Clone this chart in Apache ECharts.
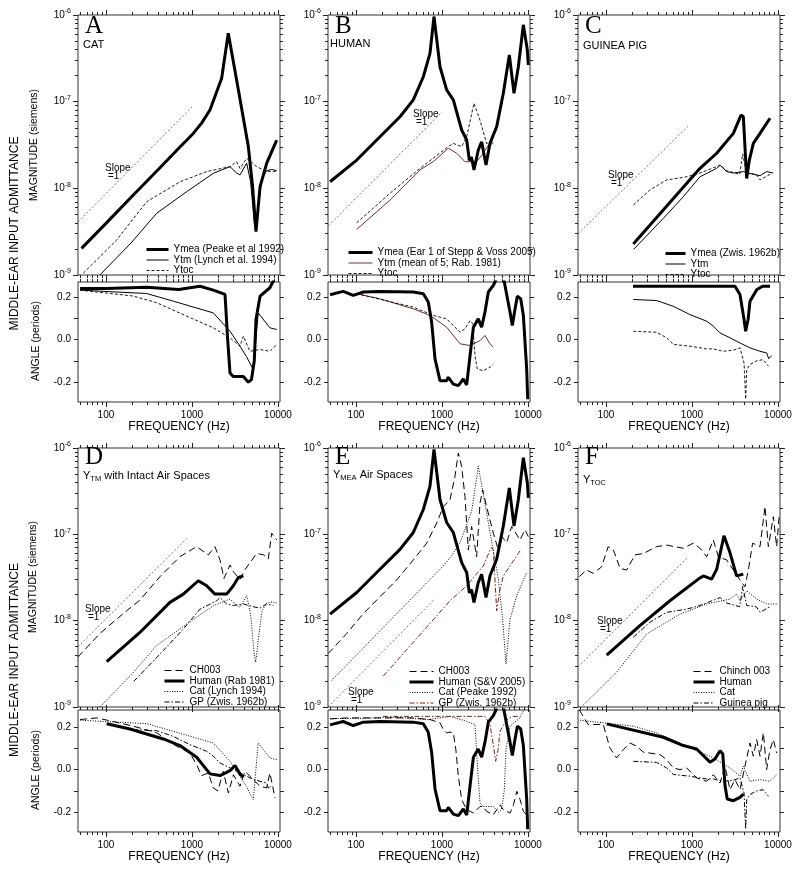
<!DOCTYPE html>
<html>
<head>
<meta charset="utf-8">
<script src="https://cdn.jsdelivr.net/npm/echarts@6/dist/echarts.min.js"></script>
<style>
html,body{margin:0;padding:0;background:#fff}
#chart{width:800px;height:874px}
</style>
</head>
<body>
<div id="chart"></div>
<script>
// ---- axis ticks ----
var X_MIN=47.3, X_MAX=10550;
var X_MAJOR=[100,1000,10000];
var X_MINOR=[50,60,70,80,90,200,300,400,500,600,700,800,900,2000,3000,4000,5000,6000,7000,8000,9000];
var Y_MAJOR=[1e-9,1e-8,1e-7,1e-6];
var Y_MINOR=[2e-9,3e-9,4e-9,5e-9,6e-9,7e-9,8e-9,9e-9,2e-8,3e-8,4e-8,5e-8,6e-8,7e-8,8e-8,9e-8,2e-7,3e-7,4e-7,5e-7,6e-7,7e-7,8e-7,9e-7];
var ANG_TICKS=[-0.2,-0.1,0,0.1,0.2];
var ANG_LABELS=[-0.2,0,0.2];

// ---- cat (A) : [Hz, siemens] / [Hz, periods] ----
var catYmeaMag=[[52,2.03e-9],[100,3.94e-9],[200,8.05e-9],[400,1.63e-8],[725,3.0e-8],[1035,4.3e-8],[1300,5.7e-8],[1618,8.0e-8],[2213,1.86e-7],[2642,6.15e-7],[3460,1.37e-7],[4520,3.03e-8],[5070,1.04e-8],[5548,3.16e-9],[6180,1.04e-8],[7396,1.95e-8],[9660,3.6e-8]];
var catYmeaAng=[[50,0.24],[100,0.24],[300,0.245],[700,0.235],[1239,0.25],[1770,0.232],[2421,0.212],[2600,0.0],[2767,-0.157],[3014,-0.173],[3954,-0.173],[4522,-0.2],[4914,-0.188],[5300,-0.1],[5546,0.094],[6190,0.204],[8050,0.243],[9200,0.29]];
var catYtmMag=[[85,1.0e-9],[200,2.4e-9],[388,5.15e-9],[867,9.14e-9],[1770,1.49e-8],[2767,1.78e-8],[3300,1.5e-8],[3614,1.43e-8],[4325,1.95e-8],[4800,1.2e-8],[5300,4.0e-9],[5500,3.3e-9],[5900,6.0e-9],[6500,1.3e-8],[7400,1.6e-8],[8500,1.65e-8],[9660,1.6e-8]];
var catYtmAng=[[50,0.232],[85,0.227],[297,0.216],[607,0.18],[1770,0.125],[2767,0.039],[3614,-0.031],[4300,-0.08],[5160,-0.141],[5890,0.125],[8050,0.055],[9650,0.047]];
var catYtocMag=[[54.5,1.05e-9],[133,2.53e-9],[297,7.0e-9],[725,1.19e-8],[1483,1.56e-8],[2767,1.78e-8],[3300,2.03e-8],[3614,1.7e-8],[4325,2.22e-8],[5650,1.78e-8],[7396,1.56e-8],[9660,1.56e-8]];
var catYtocAng=[[50,0.232],[208,0.204],[388,0.173],[867,0.11],[1770,0.055],[2767,0.008],[3614,-0.031],[3954,0.016],[4710,-0.055],[6190,-0.047],[8050,-0.055],[9650,-0.024]];

// ---- human (B) ----
var humYmeaMag=[[50,1.19e-8],[102,2.12e-8],[190,3.94e-8],[325,6.7e-8],[464,1.05e-7],[607,1.94e-7],[725,3.6e-7],[807,9.6e-7],[948,2.53e-7],[1133,1.37e-7],[1354,1.05e-7],[1694,4.71e-8],[1937,3.61e-8],[2080,2.1e-8],[2200,2.3e-8],[2355,1.63e-8],[2642,2.77e-8],[2890,3.45e-8],[3250,1.86e-8],[3614,3.31e-8],[4325,5.15e-8],[5165,1.25e-7],[6067,3.45e-7],[6875,1.25e-7],[7723,2.53e-7],[8830,7.7e-7],[9820,3.95e-7],[10090,2.65e-7]];
var humYmeaAng=[[50,0.21],[71,0.226],[93,0.207],[122,0.223],[190,0.226],[464,0.223],[607,0.215],[693,0.176],[758,0.082],[830,-0.091],[948,-0.193],[1133,-0.193],[1185,-0.177],[1354,-0.209],[1550,-0.216],[1770,-0.185],[1937,-0.213],[2120,-0.075],[2320,0.058],[2640,0.097],[2890,0.058],[3160,0.129],[3460,0.223],[3954,0.254],[4240,0.28],[4800,0.4],[5250,0.28],[6180,0.129],[6575,0.066],[7070,0.144],[7530,0.204],[8230,0.191],[8830,0.113],[9650,-0.138],[9920,-0.28]];
var humYtmMag=[[102,3.36e-9],[248,7.3e-9],[554,1.63e-8],[793,2.03e-8],[1185,2.9e-8],[1483,2.54e-8],[1850,2.03e-8],[2530,2.03e-8],[3026,2.54e-8],[3460,3.16e-8],[3954,3.3e-8]];
var humYtmAng=[[102,0.215],[190,0.191],[464,0.144],[725,0.113],[1133,0.058],[1620,-0.02],[2120,-0.028],[2767,-0.005],[3160,0.019],[3614,-0.02],[3954,-0.036]];
var humYtocMag=[[102,4.0e-9],[248,8.75e-9],[554,1.7e-8],[1185,3.03e-8],[1354,3.3e-8],[1694,3.03e-8],[1937,3.94e-8],[2355,9.6e-8],[2767,6.1e-8],[3300,3.3e-8],[3954,3.46e-8]];
var humYtocAng=[[102,0.215],[464,0.152],[793,0.113],[1133,0.097],[1620,0.035],[1850,0.05],[2120,0.089],[2280,0.074],[2420,-0.075],[2570,-0.138],[3030,-0.146],[3614,-0.13],[3954,-0.115]];

// ---- guinea pig (C) ----
var gpYmeaMag=[[208,2.28e-9],[1239,1.7e-8],[1937,2.54e-8],[3026,4.31e-8],[3715,7.0e-8],[3954,6.7e-8],[4325,1.3e-8],[4645,2.12e-8],[5165,3.3e-8],[6180,4.3e-8],[8075,6.43e-8]];
var gpYmeaAng=[[206,0.25],[3162,0.25],[3614,0.211],[4030,0.094],[4207,0.039],[4490,0.094],[4725,0.18],[5650,0.234],[6600,0.25],[8070,0.25]];
var gpYtmMag=[[210,1.98e-9],[464,4.5e-9],[793,8.0e-9],[1239,1.36e-8],[1937,1.7e-8],[2120,1.85e-8],[2530,1.56e-8],[3026,1.5e-8],[3954,1.56e-8],[5165,1.45e-8],[6180,1.4e-8],[7380,1.56e-8],[8800,1.5e-8]];
var gpYtmAng=[[208,0.188],[388,0.183],[607,0.156],[948,0.117],[1483,0.086],[1770,0.063],[2120,0.031],[2767,0.008],[3614,-0.016],[4725,-0.039],[6180,-0.055],[7380,-0.063],[7800,-0.09],[8450,-0.075]];
var gpYtocMag=[[208,6.43e-9],[325,9.6e-9],[507,1.25e-8],[867,1.36e-8],[1239,1.5e-8],[2120,1.85e-8],[2530,1.6e-8],[3590,1.45e-8],[3880,2.5e-8],[4325,1.5e-8],[5600,1.45e-8],[6180,1.25e-8],[8075,1.45e-8]];
var gpYtocAng=[[208,0.039],[388,0.034],[507,0.008],[607,-0.023],[948,-0.031],[1483,-0.044],[1770,-0.044],[2315,-0.055],[3030,-0.05],[3614,-0.039],[4030,-0.11],[4207,-0.28],[4330,-0.14],[4725,-0.117],[5650,-0.1],[6700,-0.094],[7750,-0.125]];

// ---- chinchilla 003 (D,E,F) ----
var chYtmMag=[[47.3,3.8e-9],[85,7.1e-9],[159,1.21e-8],[248,1.73e-8],[424,3.23e-8],[725,5.52e-8],[1133,7.2e-8],[1549,5.77e-8],[1850,7.2e-8],[2117,5.05e-8],[2356,3.09e-8],[2767,4.41e-8],[3020,3.7e-8],[3614,3.0e-8],[4130,3.9e-8],[5650,6.0e-8],[6750,5.8e-8],[7720,5.2e-8],[8440,1.03e-7],[9700,8.6e-8]];
var chYtmAng=[[50,0.235],[78,0.243],[118,0.227],[208,0.204],[388,0.173],[660,0.11],[948,0.078],[1130,0.024],[1290,-0.028],[1550,-0.016],[1770,-0.086],[2000,-0.1],[2310,-0.008],[2650,-0.11],[3030,-0.024],[3614,-0.078],[4130,-0.008],[5165,-0.047],[6180,-0.078],[7380,-0.086],[8050,-0.016],[9240,-0.133]];
var chYmeaMag=[[47.6,4.16e-9],[78,7.1e-9],[122,1.21e-8],[190,1.89e-8],[297,2.96e-8],[464,5.05e-8],[664,7.9e-8],[867,1.35e-7],[1037,2.1e-7],[1239,2.51e-7],[1415,4.69e-7],[1549,8.75e-7],[1694,6.1e-7],[1850,2.75e-7],[2025,6.6e-8],[2213,1.23e-7],[2530,5.5e-8],[2767,2.3e-7],[2970,3.28e-7],[3300,2.1e-7],[3954,1.03e-7],[4520,6.6e-8],[4940,9.5e-8],[5650,8.0e-8],[6450,1.23e-7],[7060,1.07e-7],[8075,8.6e-8],[9220,1.13e-7],[10090,9.4e-8]];
var chYmeaAng=[[50,0.238],[78,0.243],[190,0.243],[464,0.243],[725,0.235],[948,0.22],[1037,0.188],[1133,0.173],[1240,0.176],[1354,0.173],[1450,0.094],[1549,-0.031],[1694,-0.141],[1937,-0.188],[2320,-0.204],[2767,-0.173],[3030,-0.173],[3300,-0.196],[3954,-0.212],[4330,-0.188],[4725,-0.165],[5165,-0.188],[6180,-0.204],[6780,-0.165],[7420,-0.102],[8100,-0.141],[8830,-0.196],[10090,-0.22]];
var chYtocMag=[[49,3.24e-8],[59.5,3.86e-8],[71,3.53e-8],[89,4.2e-8],[106,7.2e-8],[122,6.6e-8],[146,4.03e-8],[174,3.86e-8],[217,5.77e-8],[272,6.0e-8],[388,7.2e-8],[507,7.5e-8],[793,6.9e-8],[1037,7.9e-8],[1239,6.9e-8],[1483,5.5e-8],[1770,8.6e-8],[2025,5.5e-8],[2530,5.05e-8],[3026,3.86e-8],[3614,2.96e-8],[4130,2.47e-8],[4520,3.86e-8],[5070,7.9e-8],[6180,7.2e-8],[7060,2.1e-7],[7720,7.2e-8],[8830,1.6e-7],[9650,7.2e-8],[10300,1.6e-7]];
var chYtocAng=[[49,0.28],[54.6,0.25],[62,0.212],[93,0.212],[111,0.102],[133,0.055],[159,0.094],[190,0.125],[228,0.11],[272,0.082],[424,0.071],[507,0.047],[607,0.008],[725,0.0],[867,0.008],[1133,-0.039],[1483,-0.055],[1770,-0.024],[2120,-0.063],[2420,0.016],[2767,-0.094],[3160,-0.047],[3614,-0.094],[4130,0.016],[4725,0.125],[5165,0.063],[5650,0.141],[6180,0.063],[6760,0.173],[7380,0.0],[8075,0.094],[8830,0.141],[9650,0.078]];

// ---- slope = 1 guide lines ----
var slopeA=[[47.3,4.1e-9],[1000,8.7e-8]];
var slopeB=[[48,3.7e-9],[1000,7.6e-8]];
var slopeC=[[47.3,3.0e-9],[900,5.2e-8]];
var slopeD=[[47.3,5.0e-9],[875,9.0e-8]];
var slopeE=[[47.3,1.0e-9],[830,1.8e-8]];
var slopeF=[[47.3,2.9e-9],[870,5.3e-8]];

var FONT='Liberation Sans';
var THICK={color:'#000',width:3,type:'solid'};
var THIN={color:'#000',width:1,type:'solid'};
var BROWN={color:'#6b3030',width:1,type:'solid'};
var SDASH={color:'#000',width:0.9,type:[3,2]};
var LDASH={color:'#000',width:1,type:[7,4]};
var DOT={color:'#000',width:1,type:[1,1.5]};
var DASHDOT={color:'#000',width:1,type:[5,2,1.5,2]};
var DASHDOT_RED={color:'#7b2020',width:1,type:[5,2,1.5,2]};
var SLOPE={color:'#555',width:0.8,type:[2,2]};

var PW=202;
var COLS=[78,328,578];
var ROWS=[
  {magTop:15,magH:260,angTop:282,angH:120,angMax:0.27},
  {magTop:448,magH:259,angTop:710,angH:122,angMax:0.28}
];

var panels=[
 {col:0,row:0,letter:'A',sub:'CAT',subAt:[83,44.5],slope:slopeA,slopeAt:[105,168],legAt:[145,244.5],iconW:22,
  lines:[{name:'Ymea (Peake et al 1992)',mag:catYmeaMag,ang:catYmeaAng,st:THICK},
         {name:'Ytm (Lynch et al. 1994)',mag:catYtmMag,ang:catYtmAng,st:THIN},
         {name:'Ytoc',mag:catYtocMag,ang:catYtocAng,st:SDASH}]},
 {col:1,row:0,letter:'B',sub:'HUMAN',subAt:[330,44],slope:slopeB,slopeAt:[413,114],legAt:[347,247.5],iconW:24,
  lines:[{name:'Ymea (Ear 1 of Stepp & Voss 2005)',mag:humYmeaMag,ang:humYmeaAng,st:THICK},
         {name:'Ytm (mean of 5; Rab. 1981)',mag:humYtmMag,ang:humYtmAng,st:BROWN},
         {name:'Ytoc',mag:humYtocMag,ang:humYtocAng,st:SDASH}]},
 {col:2,row:0,letter:'C',sub:'GUINEA PIG',subAt:[583,46],slope:slopeC,slopeAt:[608,175],legAt:[664,248.5],iconW:20,
  lines:[{name:'Ymea (Zwis. 1962b)',mag:gpYmeaMag,ang:gpYmeaAng,st:THICK},
         {name:'Ytm',mag:gpYtmMag,ang:gpYtmAng,st:THIN},
         {name:'Ytoc',mag:gpYtocMag,ang:gpYtocAng,st:SDASH}]},
 {col:0,row:1,letter:'D',sub:'{a|Y}{s|TM}{a| with Intact Air Spaces}',subAt:[83,476],slope:slopeD,slopeAt:[85,609],legAt:[163,665.5],iconW:20,
  lines:[{name:'CH003',mag:chYtmMag,ang:chYtmAng,st:LDASH},
         {name:'Human (Rab 1981)',mag:humYtmMag,ang:humYtmAng,st:THICK},
         {name:'Cat (Lynch 1994)',mag:catYtmMag,ang:catYtmAng,st:DOT},
         {name:'GP (Zwis. 1962b)',mag:gpYtmMag,ang:gpYtmAng,st:DASHDOT}]},
 {col:1,row:1,letter:'E',sub:'{a|Y}{s|MEA}{a| Air Spaces}',subAt:[333,475],slope:slopeE,slopeAt:[348,692],legAt:[408,666.5],iconW:24,
  lines:[{name:'CH003',mag:chYmeaMag,ang:chYmeaAng,st:LDASH},
         {name:'Human (S&V 2005)',mag:humYmeaMag,ang:humYmeaAng,st:THICK},
         {name:'Cat (Peake 1992)',mag:catYmeaMag,ang:catYmeaAng,st:DOT},
         {name:'GP (Zwis. 1962b) ',mag:gpYmeaMag,ang:gpYmeaAng,st:DASHDOT_RED}]},
 {col:2,row:1,letter:'F',sub:'{a|Y}{s|TOC}',subAt:[583,480],slope:slopeF,slopeAt:[597,621],legAt:[692,666.5],iconW:21,
  lines:[{name:'Chinch 003',mag:chYtocMag,ang:chYtocAng,st:LDASH},
         {name:'Human',mag:humYtocMag,ang:humYtocAng,st:THICK},
         {name:'Cat',mag:catYtocMag,ang:catYtocAng,st:DOT},
         {name:'Guinea pig',mag:gpYtocMag,ang:gpYtocAng,st:DASHDOT}]}
];

var opt={animation:false,textStyle:{fontFamily:FONT,color:'#000'},
  grid:[],xAxis:[],yAxis:[],series:[],legend:[],graphic:[]};

function tickAx(type,gi,pos,ticks,len,extra){
  var a={type:type,gridIndex:gi,position:pos,
    axisLine:{show:false,onZero:false},splitLine:{show:false},
    axisTick:{show:true,length:len,customValues:ticks,lineStyle:{color:'#222',width:1}},
    axisLabel:{show:false}};
  for(var k in extra) a[k]=extra[k];
  return a;
}

function addGrid(left,top,h,isMag,angMax){
  var gi=opt.grid.length;
  opt.grid.push({left:left,top:top,width:PW,height:h,show:true,borderColor:'#333',borderWidth:1,backgroundColor:'transparent'});
  var xi=opt.xAxis.length, yi=opt.yAxis.length;
  var xr={min:X_MIN,max:X_MAX};
  // x: bottom major (labels on angle plots), bottom minor, top major, top minor
  opt.xAxis.push(tickAx('log',gi,'bottom',X_MAJOR,5,{min:X_MIN,max:X_MAX,
    axisLabel:{show:!isMag,customValues:X_MAJOR,margin:8,fontSize:10,color:'#000',
      formatter:function(v){return String(Math.round(v));}},
    name:isMag?'':'FREQUENCY (Hz)',nameLocation:'middle',nameGap:18,nameTextStyle:{fontSize:12,color:'#000'}}));
  opt.xAxis.push(tickAx('log',gi,'bottom',X_MINOR,3,xr));
  opt.xAxis.push(tickAx('log',gi,'top',X_MAJOR,5,xr));
  opt.xAxis.push(tickAx('log',gi,'top',X_MINOR,3,xr));
  if(isMag){
    var yr={min:0.99999e-9,max:1.00001e-6};
    opt.yAxis.push(tickAx('log',gi,'left',Y_MAJOR,5,{min:yr.min,max:yr.max,
      axisLabel:{show:true,customValues:Y_MAJOR,margin:7,fontSize:10,color:'#000',lineHeight:14,
        formatter:function(v){return '10{s|'+Math.round(Math.log10(v))+'}';},
        rich:{s:{fontSize:7,lineHeight:6,verticalAlign:'top',fontFamily:FONT}}}}));
    opt.yAxis.push(tickAx('log',gi,'left',Y_MINOR,3,yr));
    opt.yAxis.push(tickAx('log',gi,'right',Y_MAJOR,5,yr));
    opt.yAxis.push(tickAx('log',gi,'right',Y_MINOR,3,yr));
  } else {
    var ar={min:-0.293,max:angMax};
    opt.yAxis.push(tickAx('value',gi,'left',ANG_TICKS,4,{min:ar.min,max:ar.max,
      axisLabel:{show:true,customValues:ANG_LABELS,margin:7,fontSize:10,color:'#000',
        formatter:function(v){return v.toFixed(1);}}}));
    opt.yAxis.push(tickAx('value',gi,'right',ANG_TICKS,4,ar));
  }
  return {x:xi,y:yi};
}

function txt(x,y,text,size,extra){
  var st={text:text,x:0,y:0,fill:'#000',fontSize:size,fontFamily:FONT,align:'left',verticalAlign:'middle'};
  for(var k in extra) st[k]=extra[k];
  return {type:'text',x:x,y:y,style:st,silent:true};
}

panels.forEach(function(p){
  var left=COLS[p.col], R=ROWS[p.row];
  var m=addGrid(left,R.magTop,R.magH,true);
  var a=addGrid(left,R.angTop,R.angH,false,R.angMax);
  p.lines.forEach(function(s){
    opt.series.push({name:s.name,type:'line',xAxisIndex:m.x,yAxisIndex:m.y,data:s.mag,
      symbol:'none',itemStyle:{color:s.st.color},lineStyle:{color:s.st.color,width:s.st.width,type:s.st.type},
      z:s.st.width>2?4:3,silent:true});
  });
  p.lines.forEach(function(s){
    opt.series.push({name:s.name,type:'line',xAxisIndex:a.x,yAxisIndex:a.y,data:s.ang,
      symbol:'none',itemStyle:{color:s.st.color},lineStyle:{color:s.st.color,width:s.st.width,type:s.st.type},
      z:s.st.width>2?4:3,silent:true});
  });
  opt.series.push({name:'slope '+p.letter,type:'line',xAxisIndex:m.x,yAxisIndex:m.y,data:p.slope,
    symbol:'none',lineStyle:{color:SLOPE.color,width:SLOPE.width,type:SLOPE.type},z:2,silent:true});

  // legend: line icon only, no marker
  opt.legend.push({data:p.lines.map(function(s){return s.name;}),orient:'vertical',
    left:p.legAt[0],top:p.legAt[1],padding:0,itemGap:0.5,itemWidth:p.iconW,itemHeight:7,
    selectedMode:false,lineStyle:{width:'inherit'},itemStyle:{opacity:0},
    textStyle:{fontSize:10,lineHeight:9,color:'#000',fontFamily:FONT}});

  var ly=p.row==0?26.5:457;
  opt.graphic.push(txt(left+7,ly,p.letter,25,{fontFamily:'Liberation Serif'}));
  opt.graphic.push(txt(p.subAt[0],p.subAt[1],p.sub,11,{
    rich:{a:{fontSize:11,lineHeight:14,fontFamily:FONT},s:{fontSize:7.5,lineHeight:6,verticalAlign:'bottom',fontFamily:FONT}}}));
  opt.graphic.push(txt(p.slopeAt[0],p.slopeAt[1],'Slope',10));
  opt.graphic.push(txt(p.slopeAt[0]+3,p.slopeAt[1]+8.5,'=1',10));
});

// axis titles on the left
[[15,233.5,12,'MIDDLE-EAR INPUT ADMITTANCE'],[34,145,10.5,'MAGNITUDE (siemens)'],[36,341,10.5,'ANGLE (periods)'],
 [15,660,12,'MIDDLE-EAR INPUT ADMITTANCE'],[33,577,10.5,'MAGNITUDE (siemens)'],[36,770,10.5,'ANGLE (periods)']].forEach(function(t){
  var g=txt(t[0],t[1],t[3],t[2],{align:'center'});
  g.rotation=Math.PI/2;
  opt.graphic.push(g);
});

var chart=echarts.init(document.getElementById('chart'));
chart.setOption(opt);
</script>
</body>
</html>
